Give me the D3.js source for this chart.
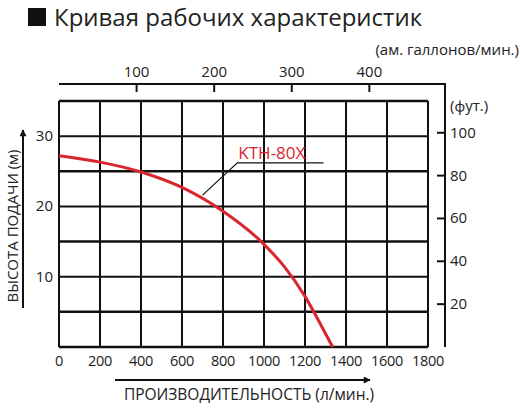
<!DOCTYPE html>
<html><head><meta charset="utf-8">
<script src="https://cdn.jsdelivr.net/npm/d3@7"></script>
<style>body{margin:0;background:#fff}text{font-family:"Open Sans",sans-serif;fill:#222}</style>
</head><body><svg id="c" width="520" height="408"></svg>
<script>
const flowLpm = [0,200,400,600,800,1000,1100,1200,1280,1335];
const headM   = [27.2,26.3,24.9,22.7,19.3,14.6,11.4,7.2,3.0,0];
const xTicks = [0,200,400,600,800,1000,1200,1400,1600,1800];
const yTicks = [10,20,30];
const galTicks = [100,200,300,400];
const ftTicks = [20,40,60,80,100];
const seriesName = "KTH-80X";

const svg = d3.select("#c");
const x = d3.scaleLinear().domain([0,1800]).range([59,428]);
const y = d3.scaleLinear().domain([0,35]).range([347,101]);
const xg = d3.scaleLinear().domain([0,1800/3.785]).range([59,428]);
const yf = d3.scaleLinear().domain([0,35/0.3048]).range([347,101]);

svg.append("rect").attr("x",28).attr("y",8).attr("width",18).attr("height",18).attr("fill","#111");
svg.append("text").attr("x",54).attr("y",26).attr("font-size",24).text("Кривая рабочих характеристик");

const g = svg.append("g");
d3.range(0,1801,200).forEach(v=>g.append("line").attr("x1",x(v)).attr("x2",x(v)).attr("y1",y(0)).attr("y2",y(35)).attr("stroke","#111").attr("stroke-width",2));
d3.range(0,36,5).forEach(v=>g.append("line").attr("x1",x(0)).attr("x2",x(1800)).attr("y1",y(v)).attr("y2",y(v)).attr("stroke","#111").attr("stroke-width",(v%10===0&&v>0)?2:2.5));

yTicks.forEach(v=>svg.append("text").attr("x",53).attr("y",y(v)+5).attr("text-anchor","end").attr("font-size",15).text(v));
xTicks.forEach(v=>svg.append("text").attr("x",x(v)).attr("y",366).attr("text-anchor","middle").attr("font-size",14.5).attr("letter-spacing",-0.3).text(v));

svg.append("line").attr("x1",59).attr("x2",446).attr("y1",84).attr("y2",84).attr("stroke","#111").attr("stroke-width",2);
galTicks.forEach(v=>{
  svg.append("line").attr("x1",xg(v)).attr("x2",xg(v)).attr("y1",84).attr("y2",92).attr("stroke","#111").attr("stroke-width",2);
  svg.append("text").attr("x",xg(v)).attr("y",77).attr("text-anchor","middle").attr("font-size",15).text(v);
});
svg.append("text").attr("x",519).attr("y",55).attr("text-anchor","end").attr("font-size",15).text("(ам. галлонов/мин.)");

svg.append("line").attr("x1",445).attr("x2",445).attr("y1",83).attr("y2",347).attr("stroke","#111").attr("stroke-width",2);
ftTicks.forEach(v=>{
  svg.append("line").attr("x1",437).attr("x2",445).attr("y1",yf(v)).attr("y2",yf(v)).attr("stroke","#111").attr("stroke-width",2);
  svg.append("text").attr("x",450).attr("y",yf(v)+5).attr("font-size",15).text(v);
});
svg.append("text").attr("x",450).attr("y",111).attr("font-size",15).text("(фут.)");

const line = d3.line().x((d,i)=>x(flowLpm[i])).y(d=>y(d)).curve(d3.curveMonotoneX);
svg.append("path").attr("d",line(headM)).attr("fill","none").attr("stroke","#d9262e").attr("stroke-width",3);

svg.append("polyline").attr("points",`${x(700)},${y(21.6)} ${x(870)},${y(26.2)} ${x(1290)},${y(26.2)}`).attr("fill","none").attr("stroke","#111").attr("stroke-width",1.2);
svg.append("text").attr("x",x(870)+1).attr("y",y(26.2)-4).attr("font-size",17).style("fill","#d9262e").text(seriesName);

svg.append("defs").append("marker").attr("id","ah").attr("viewBox","0 0 10 10").attr("refX",9).attr("refY",5).attr("markerWidth",9).attr("markerHeight",7).attr("orient","auto").attr("markerUnits","userSpaceOnUse")
  .append("path").attr("d","M0,0L10,5L0,10z").attr("fill","#111");
svg.append("line").attr("x1",115).attr("x2",370).attr("y1",380).attr("y2",380).attr("stroke","#111").attr("stroke-width",2).attr("marker-end","url(#ah)");
svg.append("text").attr("x",249).attr("y",400).attr("text-anchor","middle").attr("font-size",15.5).text("ПРОИЗВОДИТЕЛЬНОСТЬ (л/мин.)");
svg.append("line").attr("x1",23).attr("x2",23).attr("y1",308).attr("y2",130).attr("stroke","#111").attr("stroke-width",2).attr("marker-end","url(#ah)");
svg.append("text").attr("transform","translate(18,226) rotate(-90)").attr("text-anchor","middle").attr("font-size",15).text("ВЫСОТА ПОДАЧИ (м)");
</script></body></html>
